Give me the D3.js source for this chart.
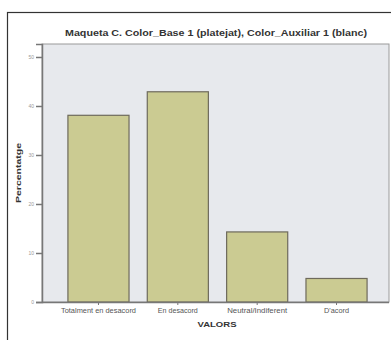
<!DOCTYPE html>
<html><head><meta charset="utf-8">
<script src="https://cdn.jsdelivr.net/npm/d3@7"></script>
<style>body{margin:0;background:#fff}svg{display:block;font-family:"Liberation Sans",Arial,sans-serif}</style>
</head><body><svg id="c" width="391" height="340"></svg>
<script>
const categories = ["Totalment en desacord", "En desacord", "Neutral/Indiferent", "D'acord"];
const values = [38.1, 42.9, 14.3, 4.8];
const yTicks = [0, 10, 20, 30, 40, 50];
const title = "Maqueta C. Color_Base 1 (platejat), Color_Auxiliar 1 (blanc)";
const yLabel = "Percentatge";
const xLabel = "VALORS";

const svg = d3.select("#c");
const plot = {l: 42, r: 389, t: 44, b: 302};

svg.append("rect").attr("x", 7.5).attr("y", 12.5).attr("width", 400).attr("height", 340)
  .attr("fill", "#fff").attr("stroke", "#333").attr("stroke-width", 1.2);

svg.append("rect").attr("x", plot.l).attr("y", plot.t).attr("width", plot.r - plot.l).attr("height", plot.b - plot.t)
  .attr("fill", "#e7e9ed").attr("stroke", "#9a9a9a").attr("stroke-width", 1);

const x = d3.scaleBand().domain(categories).range([58.8, 376.2]).paddingInner(0.23).paddingOuter(0.115);
const y = d3.scaleLinear().domain([0, 52.65]).range([plot.b, plot.t]);

svg.selectAll("rect.bar").data(values).join("rect").attr("class", "bar")
  .attr("x", (d, i) => x(categories[i])).attr("width", x.bandwidth())
  .attr("y", d => y(d)).attr("height", d => y(0) - y(d))
  .attr("fill", "#cbcb92").attr("stroke", "#6e6a5c").attr("stroke-width", 1.2);

const ya = svg.append("g").attr("transform", `translate(${plot.l},0)`)
  .call(d3.axisLeft(y).tickValues(yTicks).tickSize(6).tickPadding(2).tickFormat(d3.format("d")));
ya.select(".domain").attr("stroke", "#777").attr("stroke-width", 1.5);
ya.selectAll(".tick line").attr("stroke", "#777").attr("stroke-width", 1.5);
ya.selectAll("text").attr("font-size", 5).attr("fill", "#999");

const xa = svg.append("g").attr("transform", `translate(0,${plot.b})`)
  .call(d3.axisBottom(x).tickSize(3).tickPadding(3));
xa.select(".domain").remove();
xa.selectAll(".tick line").attr("stroke", "#777");
const labelWidths = [75, 40, 60, 25];
xa.selectAll("text").attr("font-size", 6.5).attr("fill", "#555")
  .attr("textLength", (d, i) => labelWidths[i]).attr("lengthAdjust", "spacingAndGlyphs");
svg.append("line").attr("x1", plot.l).attr("x2", plot.r).attr("y1", plot.b + 0.5).attr("y2", plot.b + 0.5)
  .attr("stroke", "#777").attr("stroke-width", 1.5);

svg.append("text").attr("x", 216).attr("y", 36).attr("text-anchor", "middle")
  .attr("font-size", 9).attr("font-weight", "bold").attr("fill", "#333")
  .attr("textLength", 302).attr("lengthAdjust", "spacingAndGlyphs").text(title);
svg.append("text").attr("transform", `translate(21,${(plot.t + plot.b) / 2}) rotate(-90)`)
  .attr("text-anchor", "middle").attr("font-size", 8).attr("font-weight", "bold").attr("fill", "#333")
  .attr("textLength", 60).attr("lengthAdjust", "spacingAndGlyphs").text(yLabel);
svg.append("text").attr("x", 217).attr("y", 327).attr("text-anchor", "middle")
  .attr("font-size", 8).attr("font-weight", "bold").attr("fill", "#333")
  .attr("textLength", 39).attr("lengthAdjust", "spacingAndGlyphs").text(xLabel);
</script></body></html>
